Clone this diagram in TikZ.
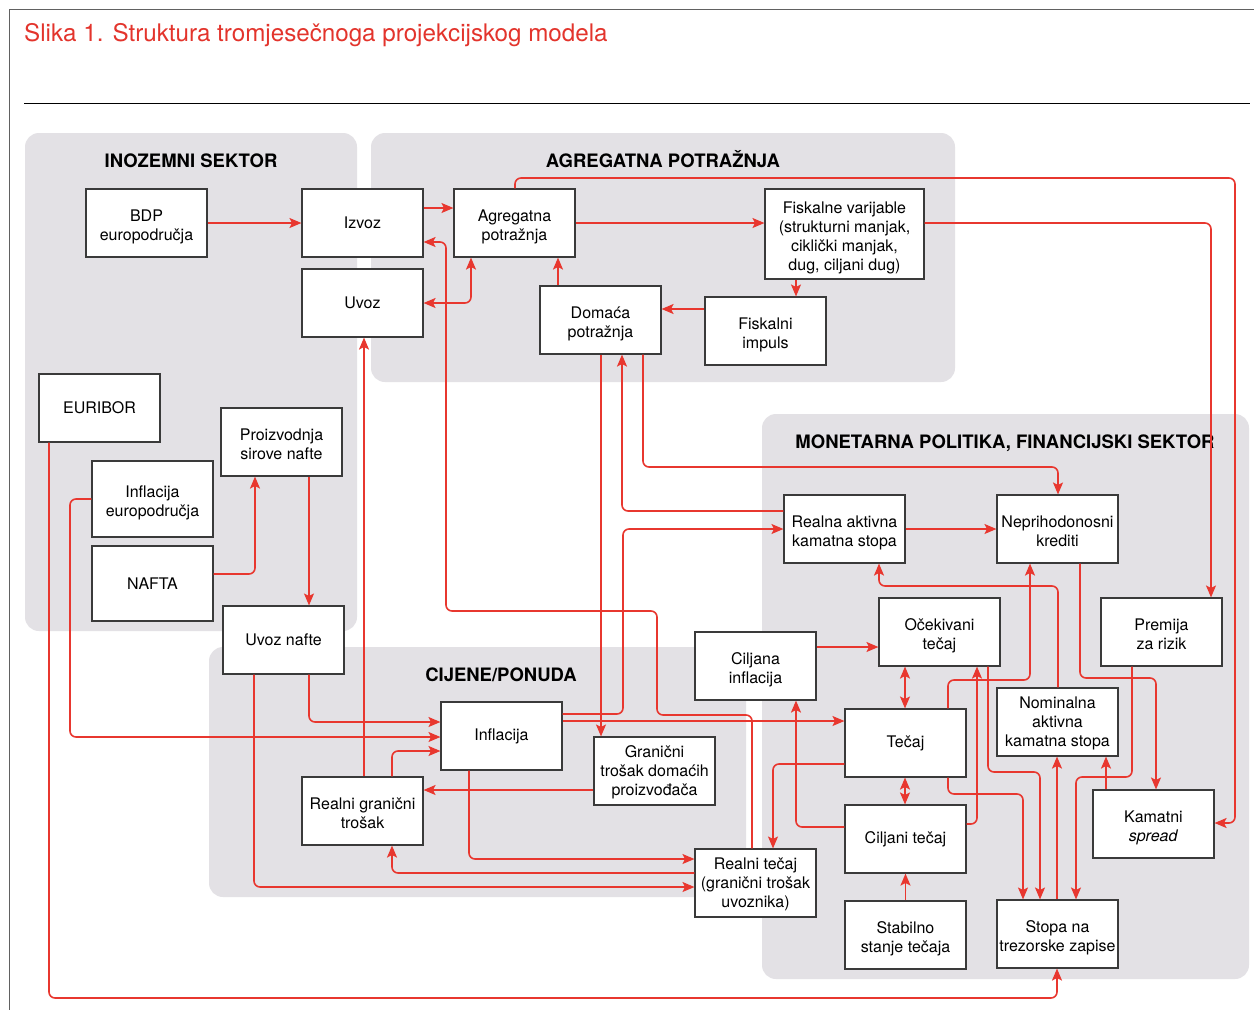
\documentclass[tikz,border=0pt]{standalone}
\usepackage{fontspec}
\setmainfont{TeX Gyre Heros}
\usetikzlibrary{arrows.meta}
\definecolor{lred}{HTML}{E8372F}
\definecolor{bggray}{HTML}{E3E1E5}
\definecolor{boxline}{HTML}{3A3A3A}
\definecolor{titlered}{HTML}{E3342C}
\newcommand\bx[2][4.5pt]{\raisebox{-#1}[\height][\depth]{\begin{tabular}{@{}c@{}}#2\end{tabular}}}
\begin{document}
\begin{tikzpicture}[x=1pt,y=-1pt,
  box/.style={draw=boxline, line width=1.1pt, fill=white, minimum width=121pt, minimum height=68pt, inner sep=1pt, font=\fontsize{16}{19}\selectfont},
  grp/.style={fill=bggray, rounded corners=14pt},
  hdr/.style={font=\fontsize{18.5}{22}\selectfont\bfseries, anchor=base},
  tip/.tip={Stealth[length=12pt,width=10pt,inset=2.5pt]},
  arr/.style={draw=lred, line width=1.6pt, rounded corners=6pt, -tip},
  arrr/.style={draw=lred, line width=1.6pt, rounded corners=6pt, tip-tip}
]
\useasboundingbox (0,0) rectangle (1254,1010);
\fill[white] (0,0) rectangle (1254,1010);
% frame
\draw[boxline!80, line width=0.9pt] (9,1010) -- (9,9) -- (1254,9);
\draw[black, line width=1pt] (24,103) -- (1250,103);
\node[anchor=base west, text=titlered, font=\fontsize{24.2}{28}\selectfont, inner sep=0pt] (title) at (24,41) {Slika 1. Struktura tromjesečnoga projekcijskog modela};
% groups
\path[grp] (25,133) rectangle (357,631);
\path[grp] (371,133) rectangle (955,382);
\path[grp] (762,414) rectangle (1249,979);
\path[grp] (209,647) rectangle (746,897);
\node[hdr] (h1) at (191,167) {INOZEMNI SEKTOR};
\node[hdr] (h2) at (663,167) {AGREGATNA POTRAŽNJA};
\node[hdr] (h3) at (1005,448) {MONETARNA POLITIKA, FINANCIJSKI SEKTOR};
\node[hdr] (h4) at (501,681) {CIJENE/PONUDA};
% boxes
\node[box] (bdp) at (146.5,223) {\bx{BDP\\europodručja}};
\node[box] (izvoz) at (362.5,223) {Izvoz};
\node[box] (uvoz) at (362.5,303) {Uvoz};
\node[box] (agr) at (514.5,223) {\bx{Agregatna\\potražnja}};
\node[box] (dom) at (600.5,320) {\bx{Domaća\\potražnja}};
\node[box] (fimp) at (765.5,331) {\bx{Fiskalni\\impuls}};
\node[box, minimum width=159pt, minimum height=90pt] (fvar) at (844.5,234) {\bx{Fiskalne varijable\\(strukturni manjak,\\ciklički manjak,\\dug, ciljani dug)}};
\node[box] (euribor) at (99.5,408) {EURIBOR};
\node[box] (proiz) at (281.5,442) {\bx{Proizvodnja\\sirove nafte}};
\node[box, minimum height=76pt] (infeu) at (152.5,499) {\bx{Inflacija\\europodručja}};
\node[box, minimum height=75pt] (nafta) at (152.5,583.5) {NAFTA};
\node[box] (uvnafte) at (283.5,640) {Uvoz nafte};
\node[box] (infl) at (501.5,736) {Inflacija};
\node[box] (rgt) at (362.5,811) {\bx{Realni granični\\trošak}};
\node[box] (gtdp) at (654.5,771) {\bx[2pt]{Granični\\trošak domaćih\\proizvođača}};
\node[box] (cinf) at (755.5,666) {\bx{Ciljana\\inflacija}};
\node[box] (rtec) at (755.5,883) {\bx[2pt]{Realni tečaj\\(granični trošak\\uvoznika)}};
\node[box] (tecaj) at (905.5,743) {Tečaj};
\node[box] (ctec) at (905.5,839) {Ciljani tečaj};
\node[box] (stab) at (905.5,935) {\bx{Stabilno\\stanje tečaja}};
\node[box] (ocek) at (939.5,632) {\bx{Očekivani\\tečaj}};
\node[box] (rak) at (844.5,529) {\bx{Realna aktivna\\kamatna stopa}};
\node[box] (nk) at (1057.5,529) {\bx{Neprihodonosni\\krediti}};
\node[box] (prem) at (1161.5,632) {\bx{Premija\\za rizik}};
\node[box] (nak) at (1057.5,722) {\bx[1.5pt]{Nominalna\\aktivna\\kamatna stopa}};
\node[box] (ksp) at (1153.5,824) {\bx{Kamatni\\\textit{spread}}};
\node[box] (stopa) at (1057.5,934) {\bx{Stopa na\\trezorske zapise}};
% connectors
\draw[arr] (bdp) -- (izvoz);
\draw[arr] (izvoz.east |- 0,208) -- (agr.west |- 0,208);
\draw[arr] (rtec.north -| 752,0) -- (752,715) -- (657,715) -- (657,611) -- (446,611) -- (446,242) -- (izvoz.east |- 0,242);
\draw[arrr] (uvoz.east |- 0,303) -- (471,303) -- (agr.south -| 471,0);
\draw[arr] (dom.north -| 558,0) -- (agr.south -| 558,0);
\draw[arr] (agr.east |- 0,223) -- (fvar.west |- 0,223);
\draw[arr] (fvar.south -| 796,0) -- (fimp.north -| 796,0);
\draw[arr] (fimp.west |- 0,309) -- (dom.east |- 0,309);
\draw[arr] (agr.north -| 515,0) -- (515,178) -- (1235,178) -- (1235,823) -- (ksp.east |- 0,823);
\draw[arr] (fvar.east |- 0,223) -- (1211,223) -- (prem.north -| 1211,0);
\draw[arr] (dom.south -| 643,0) -- (643,467) -- (1058,467) -- (nk.north -| 1058,0);
\draw[arr] (rak.west |- 0,511) -- (622,511) -- (dom.south -| 622,0);
\draw[arr] (dom.south -| 601,0) -- (gtdp.north -| 601,0);
\draw[arr] (infl.east |- 0,714) -- (623,714) -- (623,529) -- (rak.west |- 0,529);
\draw[arr] (infl.east |- 0,721) -- (tecaj.west |- 0,721);
\draw[arr] (infl.south -| 469,0) -- (469,859) -- (rtec.west |- 0,859);
\draw[arr] (rtec.west |- 0,873) -- (392,873) -- (rgt.south -| 392,0);
\draw[arr] (uvnafte.south -| 254,0) -- (254,887) -- (rtec.west |- 0,887);
\draw[arr] (uvnafte.south -| 309,0) -- (309,722) -- (infl.west |- 0,722);
\draw[arr] (infeu.west |- 0,499) -- (70,499) -- (70,737) -- (infl.west |- 0,737);
\draw[arr] (rgt.north -| 392,0) -- (392,751) -- (infl.west |- 0,751);
\draw[arr] (rgt.north -| 364,0) -- (uvoz.south -| 364,0);
\draw[arr] (gtdp.west |- 0,790) -- (rgt.east |- 0,790);
\draw[arr] (euribor.south -| 49,0) -- (49,998) -- (1057,998) -- (stopa.south -| 1057,0);
\draw[arr] (nafta.east |- 0,574) -- (255,574) -- (proiz.south -| 255,0);
\draw[arr] (proiz.south -| 309,0) -- (uvnafte.north -| 309,0);
\draw[arr] (cinf.east |- 0,647) -- (ocek.west |- 0,647);
\draw[arr] (rak) -- (nk);
\draw[arr] (nak.north -| 1058,0) -- (1058,586) -- (879,586) -- (rak.south -| 879,0);
\draw[arr] (tecaj.north -| 948,0) -- (948,680) -- (1030,680) -- (nk.south -| 1030,0);
\draw[arr] (nk.south -| 1080,0) -- (1080,678) -- (1156,678) -- (ksp.north -| 1156,0);
\draw[arr] (prem.south -| 1132,0) -- (1132,777) -- (1076,777) -- (stopa.north -| 1076,0);
\draw[arr] (ksp.north -| 1106,0) -- (nak.south -| 1106,0);
\draw[arr] (stopa.north -| 1057,0) -- (nak.south -| 1057,0);
\draw[arrr] (ocek.south -| 905,0) -- (tecaj.north -| 905,0);
\draw[arrr] (tecaj.south -| 905,0) -- (ctec.north -| 905,0);
\draw[arr] (stab) -- (ctec);
\draw[arr] (ocek.south -| 988,0) -- (988,772) -- (1040,772) -- (stopa.north -| 1040,0);
\draw[arr] (tecaj.south -| 948,0) -- (948,794) -- (1023,794) -- (stopa.north -| 1023,0);
\draw[arr] (ctec.east |- 0,824) -- (977,824) -- (ocek.south -| 977,0);
\draw[arr] (ctec.west |- 0,827) -- (796,827) -- (cinf.south -| 796,0);
\draw[arr] (tecaj.west |- 0,764) -- (773,764) -- (rtec.north -| 773,0);
\end{tikzpicture}
\end{document}
